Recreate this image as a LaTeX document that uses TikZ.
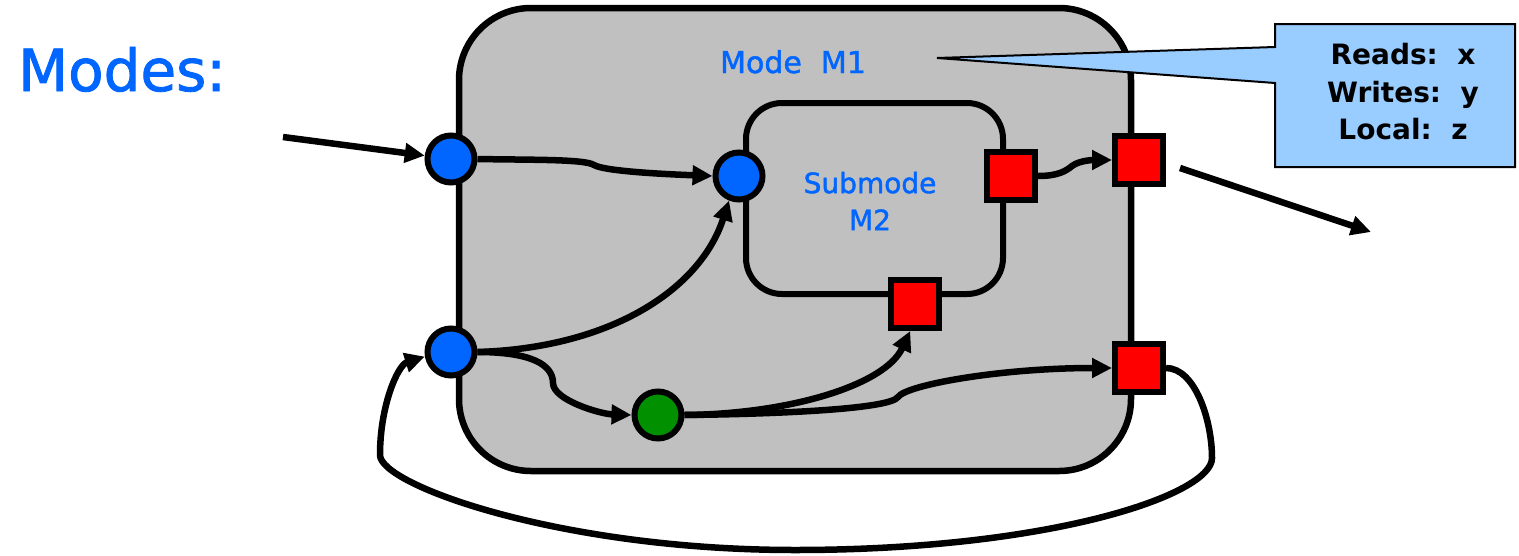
\documentclass[tikz,border=0pt]{standalone}
\usepackage{fontspec}
\setmainfont{DejaVu Sans}
\newfontfamily\heavysans[FakeBold=1.5]{DejaVu Sans}
\usetikzlibrary{arrows.meta}
\definecolor{boxgray}{HTML}{C0C0C0}
\definecolor{portblue}{HTML}{0066FF}
\definecolor{portgreen}{HTML}{009000}
\definecolor{portred}{HTML}{FF0000}
\definecolor{calloutblue}{HTML}{99CCFF}
\tikzset{
  inport/.style={circle, draw=black, line width=6pt, fill=portblue, inner sep=0pt, minimum size=47pt},
  locport/.style={circle, draw=black, line width=6pt, fill=portgreen, inner sep=0pt, minimum size=47pt},
  outport/.style={rectangle, draw=black, line width=6pt, fill=portred, inner sep=0pt, minimum size=48pt},
  conn/.style={line width=6.5pt, -{Triangle[length=20pt,width=19pt]}},
  bluetext/.style={text=portblue, inner sep=0pt},
}
\begin{document}
\begin{tikzpicture}[x=1pt,y=-1pt]
\useasboundingbox (0,0) rectangle (1519,555);

% outer mode box
\draw[line width=6.5pt, fill=boxgray, rounded corners=72pt] (459,8) rectangle (1131,471);
% inner submode box
\draw[line width=6pt, fill=boxgray, rounded corners=36pt] (746,103) rectangle (1003,294);

% labels
\node[bluetext, anchor=base, font=\heavysans\fontsize{58}{60}\selectfont] (modes) at (122,91) {Modes:};
\node[bluetext, anchor=base, font=\heavysans\fontsize{30}{32}\selectfont] (m1) at (793,73) {Mode\ \ M1};
\node[bluetext, align=center, font=\heavysans\fontsize{28}{37}\selectfont] (m2) at (870,201) {Submode\\M2};

% callout
\draw[line width=2pt, fill=calloutblue] (1275,24) -- (1515,24) -- (1515,167) -- (1275,167) -- (1275,83) -- (937,58) -- (1275,47) -- cycle;
\node[align=center, inner sep=0pt, font=\bfseries\fontsize{28}{37.5}\selectfont] (vars) at (1403,92) {Reads:\ \ x\\Writes:\ \ y\\Local:\ \ z};

% ports
\node[inport] (c1) at (451,159) {};
\node[inport] (c2) at (451,352) {};
\node[inport] (ic) at (739,176) {};
\node[locport] (g) at (658,415) {};
\node[outport] (r1) at (1011,176) {};
\node[outport] (r2) at (1139,160) {};
\node[outport] (rb) at (915,304) {};
\node[outport] (rr) at (1139,368) {};

\coordinate (inA) at (283,137);
\coordinate (outA) at (1180,168);
\coordinate (outB) at (1371,232);

% connectors
\draw[conn] (inA) -- (c1);
\draw[conn] (c1.east) .. controls (530,160) and (585,159) .. (594,165) .. controls (604,171) and (660,174) .. (ic.west);
\draw[conn] (c2.east) .. controls (610,348) and (700,290) .. (ic.-112);
\draw[conn] (c2.east) .. controls (532,352) and (553,365) .. (553,383) .. controls (553,400) and (600,414) .. (g.west);
\draw[conn] (g.east) .. controls (790,414) and (885,385) .. (rb.-100);
\draw[conn] (g.east) .. controls (780,414) and (890,409) .. (898,397) .. controls (906,385) and (1000,368) .. (rr.west);
\draw[conn] (r1.east) .. controls (1058,176) and (1066,171) .. (1072,166) .. controls (1080,160) and (1095,160) .. (r2.west);
\draw[conn] (outA) -- (outB);
\draw[conn] (rr.east) .. controls (1195,368) and (1212,420) .. (1212,458) .. controls (1212,495) and (1050,550) .. (795,550) .. controls (560,550) and (380,485) .. (380,455) .. controls (380,405) and (398,365) .. (c2.190);
\end{tikzpicture}
\end{document}
